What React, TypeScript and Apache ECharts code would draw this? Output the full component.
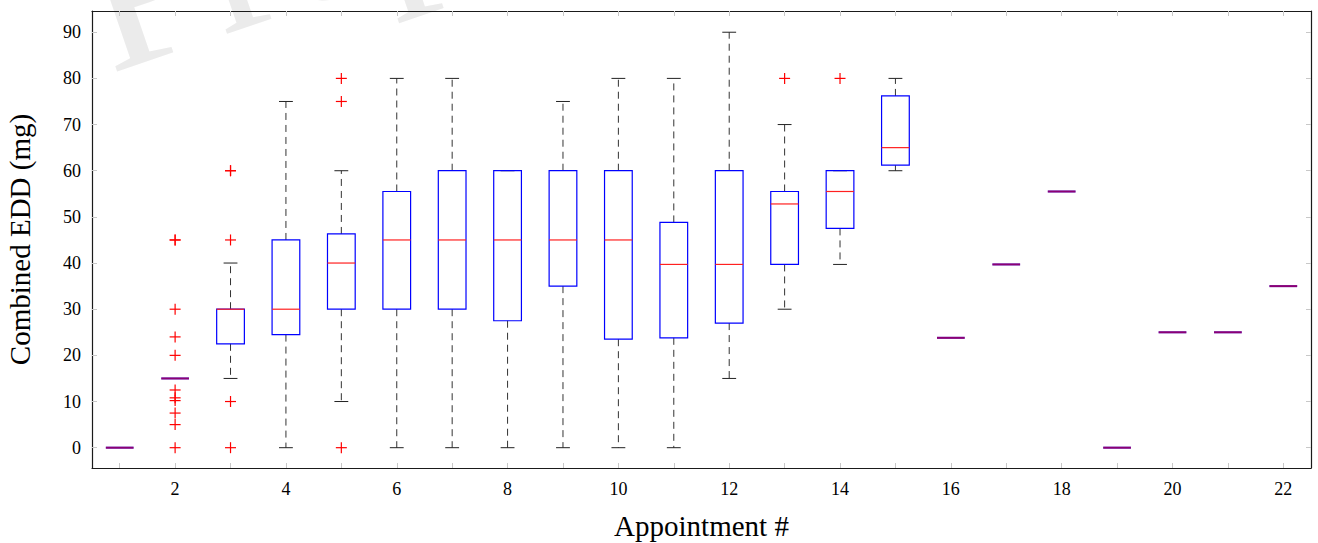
import React, { useEffect, useRef } from "react";
import * as echarts from "echarts";

// Appointment numbers
const appointments = [1, 2, 3, 4, 5, 6, 7, 8, 9, 10, 11, 12, 13, 14, 15, 16, 17, 18, 19, 20, 21, 22];
// Box statistics per appointment
const lowWhisker = [0, 15, 15, 0, 10, 0, 0, 0, 0, 0, 0, 15, 30, 39.7, 60, 23.8, 39.7, 55.5, 0, 25, 25, 35];
const q1 = [0, 15, 22.5, 24.5, 30, 30, 30, 27.5, 35, 23.5, 23.8, 27, 39.7, 47.5, 61.2, 23.8, 39.7, 55.5, 0, 25, 25, 35];
const median = [0, 15, 30, 30, 40, 45, 45, 45, 45, 45, 39.7, 39.7, 52.8, 55.5, 65, 23.8, 39.7, 55.5, 0, 25, 25, 35];
const q3 = [0, 15, 30, 45, 46.3, 55.5, 60, 60, 60, 60, 48.8, 60, 55.5, 60, 76.2, 23.8, 39.7, 55.5, 0, 25, 25, 35];
const highWhisker = [0, 15, 40, 75, 60, 80, 80, 60, 75, 80, 80, 90, 70, 60, 80, 23.8, 39.7, 55.5, 0, 25, 25, 35];
// Outliers: appointment, value
const outlierX = [2, 2, 2, 2, 2, 2, 2, 2, 2, 2, 2, 3, 3, 3, 3, 3, 5, 5, 5, 13, 14];
const outlierY = [45, 45, 30, 24, 20, 12.5, 10.8, 10.2, 7.5, 5, 0, 60, 60, 45, 10, 0, 80, 75, 0, 80, 80];

const yTicks = [0, 10, 20, 30, 40, 50, 60, 70, 80, 90];
const xLabelTicks = [2, 4, 6, 8, 10, 12, 14, 16, 18, 20, 22];

const FONT = "Liberation Serif";

export default function App() {
  const ref = useRef<HTMLDivElement>(null);
  useEffect(() => {
    if (!ref.current) return;
    const chart = echarts.init(ref.current, undefined, { renderer: "svg" });
    const boxData = appointments.map((a, i) => [a, lowWhisker[i], q1[i], median[i], q3[i], highWhisker[i]]);
    const outlierData = outlierX.map((x, i) => [x, outlierY[i]]);

    const axisLineStyle = { color: "#1a1a1a", width: 1.2 };
    const tickStyle = { color: "#c8c8c8", width: 1 };
    const wmSize = 215;

    chart.setOption({
      animation: false,
      backgroundColor: "#ffffff",
      grid: { left: 92, right: 7, top: 11, bottom: 75, containLabel: false, outerBoundsMode: "none" },
      graphic: [
        {
          type: "text",
          x: 110,
          y: 74,
          rotation: 0.33,
          z: -10,
          silent: true,
          style: {
            text: "Preprint",
            x: 0,
            y: -0.3375 * wmSize,
            verticalAlign: "middle",
            align: "left",
            fontSize: wmSize,
            fontFamily: FONT,
            fill: "#ebebeb",
          },
        },
      ],
      xAxis: [
        {
          type: "value",
          min: 0.5,
          max: 22.5,
          position: "bottom",
          name: "Appointment #",
          nameLocation: "middle",
          nameGap: 43,
          nameTextStyle: { fontFamily: FONT, fontSize: 29, color: "#000" },
          axisLine: { show: true, onZero: false, lineStyle: axisLineStyle },
          axisTick: { show: true, inside: true, length: 5, lineStyle: tickStyle, customValues: appointments },
          axisLabel: { fontFamily: FONT, fontSize: 18, color: "#000", margin: 12, customValues: xLabelTicks },
          splitLine: { show: false },
        },
        {
          type: "value",
          min: 0.5,
          max: 22.5,
          position: "top",
          axisLine: { show: true, onZero: false, lineStyle: axisLineStyle },
          axisTick: { show: true, inside: true, length: 5, lineStyle: tickStyle, customValues: appointments },
          axisLabel: { show: false },
          splitLine: { show: false },
        },
      ],
      yAxis: [
        {
          type: "value",
          min: -4.4,
          max: 94.6,
          position: "left",
          name: "Combined EDD (mg)",
          nameLocation: "middle",
          nameGap: 58,
          nameRotate: 90,
          nameTextStyle: { fontFamily: FONT, fontSize: 29, color: "#000" },
          axisLine: { show: true, onZero: false, lineStyle: axisLineStyle },
          axisTick: { show: true, inside: true, length: 5, lineStyle: tickStyle, customValues: yTicks },
          axisLabel: { fontFamily: FONT, fontSize: 18, color: "#000", margin: 11, customValues: yTicks },
          splitLine: { show: false },
        },
        {
          type: "value",
          min: -4.4,
          max: 94.6,
          position: "right",
          axisLine: { show: true, onZero: false, lineStyle: axisLineStyle },
          axisTick: { show: true, inside: true, length: 5, lineStyle: tickStyle, customValues: yTicks },
          axisLabel: { show: false },
          splitLine: { show: false },
        },
      ],
      series: [
        {
          type: "custom",
          xAxisIndex: 0,
          yAxisIndex: 0,
          data: boxData,
          renderItem: (params: any, api: any) => {
            const x = api.value(0);
            const lo = api.value(1);
            const b1 = api.value(2);
            const med = api.value(3);
            const b3 = api.value(4);
            const hi = api.value(5);
            const half = api.size([0.5, 0])[0] / 2;
            const capHalf = api.size([0.25, 0])[0] / 2;
            const pLo = api.coord([x, lo]);
            const pQ1 = api.coord([x, b1]);
            const pMed = api.coord([x, med]);
            const pQ3 = api.coord([x, b3]);
            const pHi = api.coord([x, hi]);
            const cx = pMed[0];
            const children: any[] = [];
            const flat = b1 === b3;
            if (!flat) {
              const whisk = { stroke: "#333", lineWidth: 1, lineDash: [7, 5] };
              if (lo < b1) {
                children.push({ type: "line", shape: { x1: cx, y1: pQ1[1], x2: cx, y2: pLo[1] }, style: whisk });
              }
              if (hi > b3) {
                children.push({ type: "line", shape: { x1: cx, y1: pQ3[1], x2: cx, y2: pHi[1] }, style: whisk });
              }
              children.push({ type: "line", shape: { x1: cx - capHalf, y1: pLo[1], x2: cx + capHalf, y2: pLo[1] }, style: { stroke: "#222", lineWidth: 1 } });
              children.push({ type: "line", shape: { x1: cx - capHalf, y1: pHi[1], x2: cx + capHalf, y2: pHi[1] }, style: { stroke: "#222", lineWidth: 1 } });
              children.push({
                type: "rect",
                shape: { x: cx - half, y: pQ3[1], width: half * 2, height: pQ1[1] - pQ3[1] },
                style: { fill: "none", stroke: "#0000ff", lineWidth: 1.2 },
              });
              children.push({ type: "line", shape: { x1: cx - half, y1: pMed[1], x2: cx + half, y2: pMed[1] }, style: { stroke: "#ff2020", lineWidth: 1.2 } });
            } else {
              children.push({ type: "line", shape: { x1: cx - half, y1: pMed[1], x2: cx + half, y2: pMed[1] }, style: { stroke: "#0000ff", lineWidth: 2 } });
              children.push({ type: "line", shape: { x1: cx - half, y1: pMed[1], x2: cx + half, y2: pMed[1] }, style: { stroke: "#ff0000", lineWidth: 2, opacity: 0.55 } });
            }
            return { type: "group", children };
          },
        },
        {
          type: "custom",
          xAxisIndex: 0,
          yAxisIndex: 0,
          data: outlierData,
          renderItem: (params: any, api: any) => {
            const p = api.coord([api.value(0), api.value(1)]);
            const s = 5.5;
            const st = { stroke: "#ff0000", lineWidth: 1.2 };
            return {
              type: "group",
              children: [
                { type: "line", shape: { x1: p[0] - s, y1: p[1], x2: p[0] + s, y2: p[1] }, style: st },
                { type: "line", shape: { x1: p[0], y1: p[1] - s, x2: p[0], y2: p[1] + s }, style: st },
              ],
            };
          },
        },
      ],
    });
    return () => chart.dispose();
  }, []);
  return <div ref={ref} style={{ position: "fixed", left: 0, top: 0, width: 1318, height: 543 }} />;
}
